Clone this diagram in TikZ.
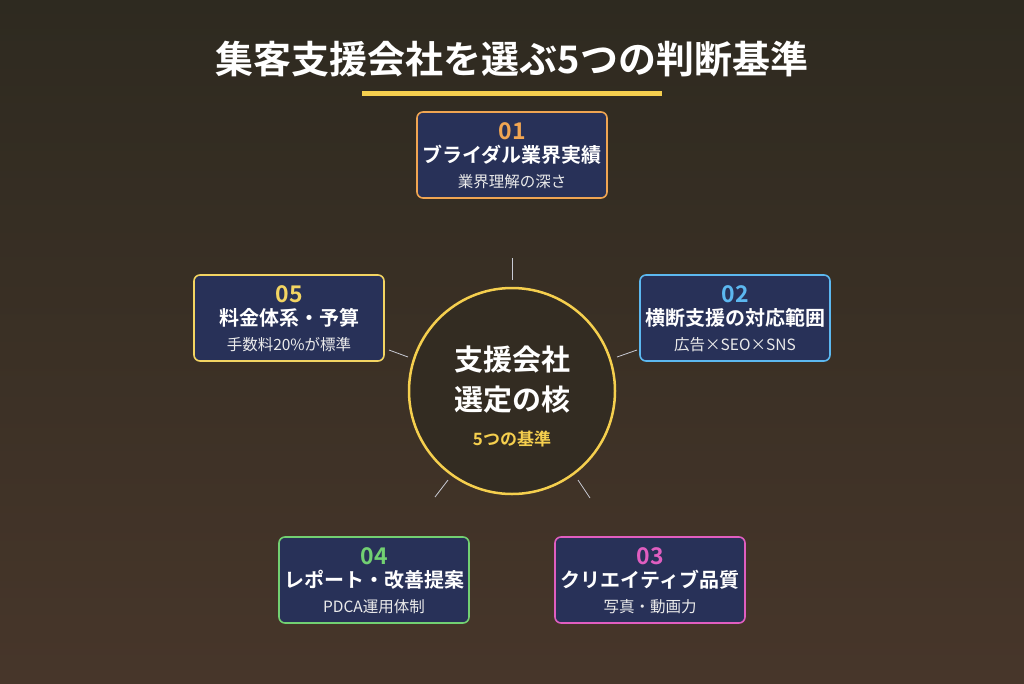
\documentclass[tikz,border=0pt]{standalone}
\usepackage{fontspec}
\setmainfont{Noto Sans CJK JP}
\newfontfamily\cjkbold{Noto Sans CJK JP Bold}
\usetikzlibrary{positioning}
\definecolor{bgtop}{HTML}{2E2A20}
\definecolor{bgbot}{HTML}{47362A}
\definecolor{boxfill}{HTML}{283158}
\definecolor{gold}{HTML}{F5CF4E}
\definecolor{cOne}{HTML}{F0A552}
\definecolor{cTwo}{HTML}{5CB8F0}
\definecolor{cThree}{HTML}{E05EC0}
\definecolor{cFour}{HTML}{72D072}
\definecolor{cFive}{HTML}{F2D462}
\tikzset{
  item/.style={draw=#1, line width=1.6pt, fill=boxfill, rounded corners=6pt,
    minimum width=190pt, minimum height=86pt, inner sep=0pt},
  num/.style={text=#1, font=\cjkbold\fontsize{23}{23}\selectfont},
  head/.style={text=white, font=\cjkbold\fontsize{20}{20}\selectfont},
  sub/.style={text=white!92!black, font=\fontsize{15.5}{16}\selectfont},
  spoke/.style={draw=white!75!boxfill, line width=0.8pt}
}
\newcommand{\itembox}[6]{%
  \node[item=#2] (#1) at (#3) {};
  \node[num=#2] at ([yshift=-20pt]#1.north) {#4};
  \node[head] at ([yshift=-44pt]#1.north) {#5};
  \node[sub] at ([yshift=-70pt]#1.north) {#6};
}
\begin{document}
\begin{tikzpicture}[x=1pt,y=-1pt]
\shade[top color=bgtop, bottom color=bgbot] (0,0) rectangle (1024,683);
\useasboundingbox (0,0) rectangle (1024,683);
% title
\node[text=white, font=\cjkbold\fontsize{38}{40}\selectfont] (title) at (512,59) {集客支援会社を選ぶ5つの判断基準};
\fill[gold] (362,91) rectangle (662,96);
% spokes
\coordinate (s1a) at (512,258); \coordinate (s1b) at (512,280);
\coordinate (s2a) at (617,357); \coordinate (s2b) at (637,350);
\coordinate (s3a) at (578,480); \coordinate (s3b) at (590,498);
\coordinate (s4a) at (448,480); \coordinate (s4b) at (435,497);
\coordinate (s5a) at (408,357); \coordinate (s5b) at (389,350);
\foreach \a/\b in {s1a/s1b,s2a/s2b,s3a/s3b,s4a/s4b,s5a/s5b}
  \draw[spoke] (\a) -- (\b);
% core
\node[circle, draw=gold, line width=2.5pt, fill=bgtop!80!bgbot, minimum size=206pt] (core) at (512,391) {};
\node[text=white, font=\cjkbold\fontsize{29}{40}\selectfont, align=center] at (512,380) {支援会社\\選定の核};
\node[text=gold, font=\cjkbold\fontsize{17}{17}\selectfont] at (512,439) {5つの基準};
% items
\itembox{crit1}{cOne}{512,155}{01}{ブライダル業界実績}{業界理解の深さ}
\itembox{crit2}{cTwo}{735,318}{02}{横断支援の対応範囲}{広告×SEO×SNS}
\itembox{crit3}{cThree}{650,580}{03}{クリエイティブ品質}{写真・動画力}
\itembox{crit4}{cFour}{374,580}{04}{レポート・改善提案}{PDCA運用体制}
\itembox{crit5}{cFive}{289,318}{05}{料金体系・予算}{手数料20\%が標準}
\end{tikzpicture}
\end{document}
